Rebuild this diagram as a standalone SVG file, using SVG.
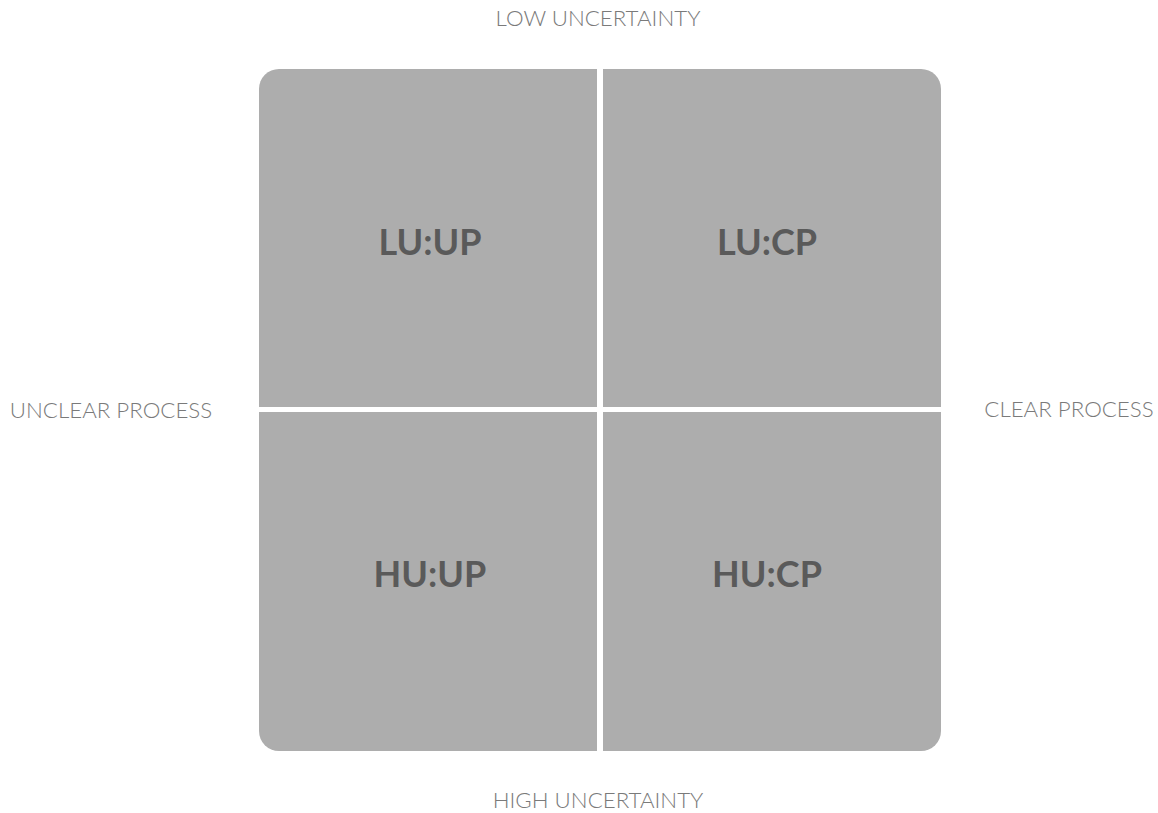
<svg xmlns="http://www.w3.org/2000/svg" width="1158" height="813" viewBox="0 0 1158 813">
<style>
.q{fill:#adadad}
.ql{font-family:Lato,"Open Sans","Liberation Sans",sans-serif;font-weight:700;font-size:36px;fill:#5a5a5a;text-anchor:middle}
.ax{font-family:Lato,"Open Sans","Liberation Sans",sans-serif;font-weight:300;font-size:22.3px;fill:#7a7a7a;text-anchor:middle}
</style>
<rect width="1158" height="813" fill="#fff"/>
<g id="LU-UP"><path class="q" d="M259,89 A20,20 0 0 1 279,69 H597 V407 H259 Z"/><text class="ql" x="430" y="255">LU:UP</text></g>
<g id="LU-CP"><path class="q" d="M603,69 H921 A20,20 0 0 1 941,89 V407 H603 Z"/><text class="ql" x="767" y="255">LU:CP</text></g>
<g id="HU-UP"><path class="q" d="M259,412 H597 V751 H279 A20,20 0 0 1 259,731 Z"/><text class="ql" x="430" y="587">HU:UP</text></g>
<g id="HU-CP"><path class="q" d="M603,412 H941 V731 A20,20 0 0 1 921,751 H603 Z"/><text class="ql" x="767" y="587">HU:CP</text></g>
<g id="labels">
<text class="ax" x="598" y="26">LOW UNCERTAINTY</text>
<text class="ax" x="598" y="808">HIGH UNCERTAINTY</text>
<text class="ax" x="111" y="418">UNCLEAR PROCESS</text>
<text class="ax" x="1069" y="417">CLEAR PROCESS</text>
</g>
<g id="connectors"></g>
</svg>
